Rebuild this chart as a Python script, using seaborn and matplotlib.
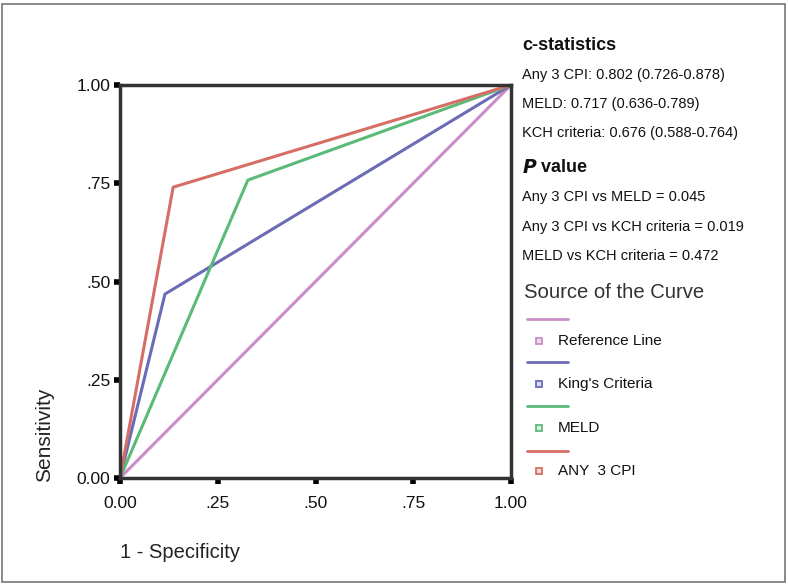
import matplotlib
matplotlib.use("Agg")
import matplotlib.pyplot as plt
import seaborn as sns
import pandas as pd
from matplotlib.lines import Line2D
from matplotlib.patches import Rectangle

# ---- data ----
series_names = ["Reference Line", "King's Criteria", "MELD", "ANY  3 CPI"]
ref_x = [0.0, 1.0]
ref_y = [0.0, 1.0]
kings_x = [0.0, 0.115, 1.0]
kings_y = [0.0, 0.468, 1.0]
meld_x = [0.0, 0.327, 1.0]
meld_y = [0.0, 0.758, 1.0]
cpi_x = [0.0, 0.136, 1.0]
cpi_y = [0.0, 0.740, 1.0]
tick_vals = [0.0, 0.25, 0.5, 0.75, 1.0]
tick_labels = ["0.00", ".25", ".50", ".75", "1.00"]
cstat_lines = ["Any 3 CPI: 0.802 (0.726-0.878)",
               "MELD: 0.717 (0.636-0.789)",
               "KCH criteria: 0.676 (0.588-0.764)"]
pval_lines = ["Any 3 CPI vs MELD = 0.045",
              "Any 3 CPI vs KCH criteria = 0.019",
              "MELD vs KCH criteria = 0.472"]
colors = ["#c98dc8", "#6b6bb6", "#5cba78", "#d66e66"]
face_colors = ["#f0dcef", "#dcdcf0", "#d8f0de", "#f4d8d4"]

xs = [ref_x, kings_x, meld_x, cpi_x]
ys = [ref_y, kings_y, meld_y, cpi_y]
rows = []
for name, xv, yv in zip(series_names, xs, ys):
    for i, (a, b) in enumerate(zip(xv, yv)):
        rows.append({"series": name, "order": i, "x": a, "y": b})
df = pd.DataFrame(rows)

sns.set_style("white")
plt.rcParams["font.family"] = ["Liberation Sans", "DejaVu Sans"]

W, H = 788, 586
fig = plt.figure(figsize=(W / 100, H / 100), dpi=100)
ax = fig.add_axes([120 / W, 1 - 478 / H, (511 - 120) / W, (478 - 85) / H])

sns.lineplot(data=df, x="x", y="y", hue="series", hue_order=series_names,
             palette=colors, sort=False, estimator=None, units="series",
             linewidth=2.2, ax=ax, legend=False)

ax.set_xlim(0, 1)
ax.set_ylim(0, 1)
ax.set_xticks(tick_vals)
ax.set_xticklabels(tick_labels)
ax.set_yticks(tick_vals)
ax.set_yticklabels(tick_labels)
ax.set_xlabel("")
ax.set_ylabel("")
for s in ax.spines.values():
    s.set_color("#333333")
    s.set_linewidth(2.5)
ax.tick_params(axis="both", direction="out", length=4, width=4, color="black",
               labelsize=12.5, labelcolor="#111111", pad=3,
               bottom=True, left=True)
ax.tick_params(axis="x", pad=9)

# axis labels
fig.text(120 / W, 1 - 553 / H, "1 - Specificity", fontsize=14.5, ha="left",
         va="center", color="#222222")
fig.text(45 / W, 1 - 482 / H, "Sensitivity", fontsize=15, rotation=90,
         ha="center", va="bottom", color="#222222")

# annotation text
tx = 522 / W
fig.text(tx, 1 - 45 / H, "c-statistics", fontsize=13, fontweight="bold",
         va="center", color="#111111")
for i, t in enumerate(cstat_lines):
    fig.text(tx, 1 - (75 + 29 * i) / H, t, fontsize=10.5, va="center",
             color="#111111")
fig.text(tx, 1 - 168 / H, r"$\boldsymbol{P}$", fontsize=13.5, va="center",
         color="#111111")
fig.text(tx + 14 / W, 1 - 168 / H, " value", fontsize=13, fontweight="bold",
         va="center", color="#111111")
for i, t in enumerate(pval_lines):
    fig.text(tx, 1 - (197 + 29.5 * i) / H, t, fontsize=10.5, va="center",
             color="#111111")

# legend
fig.text(524 / W, 1 - 292 / H, "Source of the Curve", fontsize=14.6,
         va="center", color="#333333")
line_ys = [319, 362, 406, 451]
mark_ys = [341, 384, 428, 471]
for name, c, fc, ly, my in zip(series_names, colors, face_colors, line_ys, mark_ys):
    fig.add_artist(Line2D([527 / W, 568 / W], [1 - ly / H, 1 - ly / H],
                          color=c, linewidth=2, transform=fig.transFigure))
    fig.add_artist(Line2D([539 / W], [1 - my / H], marker="s", markersize=5,
                          markerfacecolor=fc, markeredgecolor=c,
                          markeredgewidth=1.3, linestyle="none",
                          transform=fig.transFigure))
    fig.text(558 / W, 1 - my / H, name, fontsize=11, va="center",
             color="#111111")

# outer border
fig.add_artist(Rectangle((2 / W, 4 / H), 783 / W, 578 / H, fill=False,
                         edgecolor="#777777", linewidth=1.2,
                         transform=fig.transFigure))

fig.savefig("out.png", dpi=100)
